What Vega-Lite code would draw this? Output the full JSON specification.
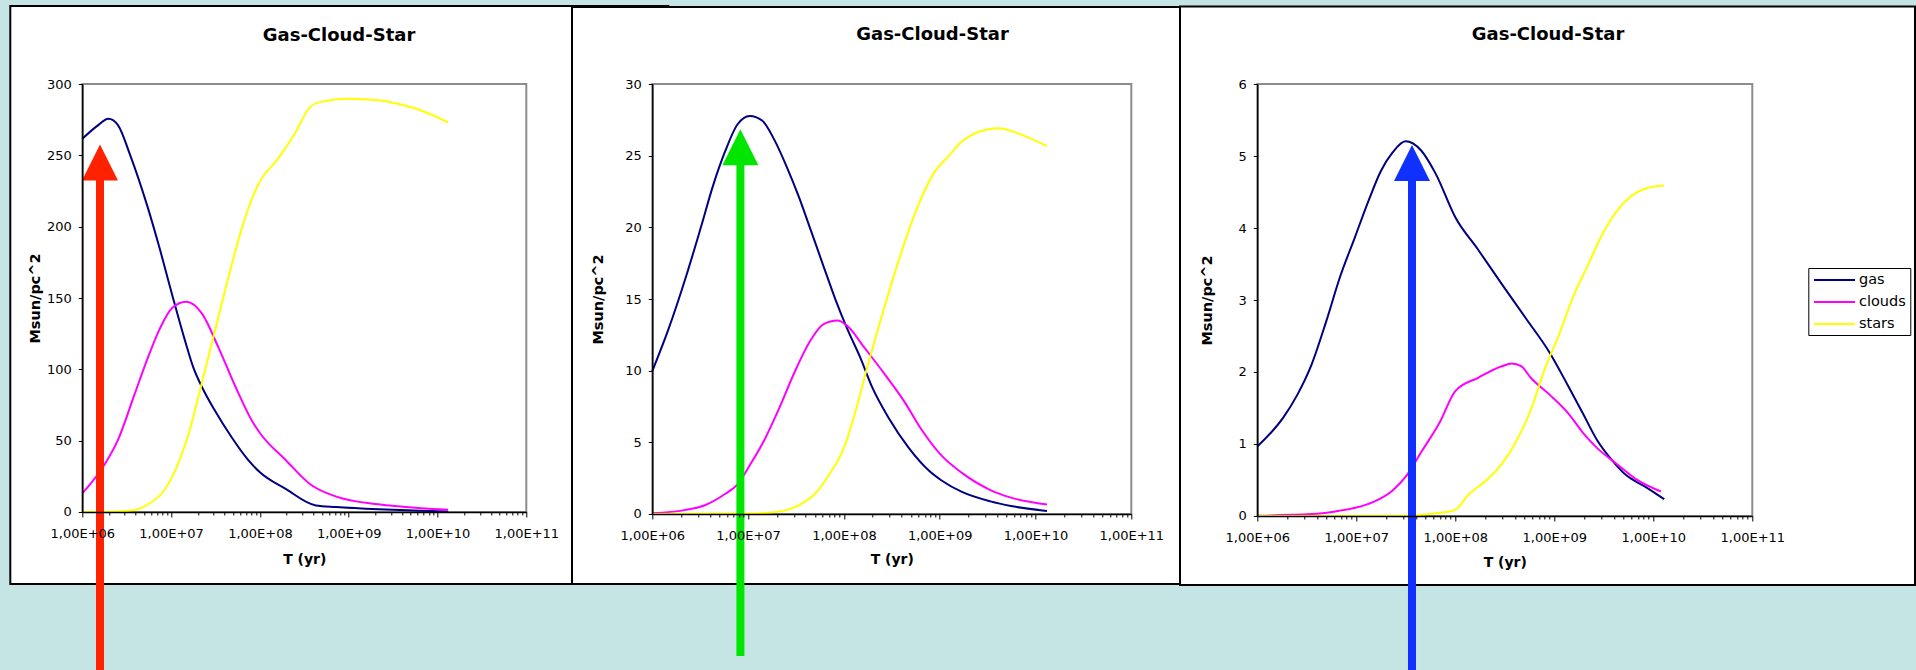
{
 "$schema": "https://vega.github.io/schema/vega-lite/v6.json",
 "background": "#c5e5e5",
 "padding": {"left": 9.3, "top": 4, "right": 0, "bottom": 0},
 "autosize": {"type": "pad"},
 "spacing": 126,
 "bounds": "flush",
 "resolve": {"scale": {"x": "independent", "y": "independent", "color": "independent"}},
 "datasets": {
  "curves": [
   {"p":1,"s":"gas","t":1e6,"v":261.6},{"p":1,"s":"gas","t":1.449e6,"v":270.3},{"p":1,"s":"gas","t":1.968e6,"v":275.7},{"p":1,"s":"gas","t":2.5e6,"v":271.6},{"p":1,"s":"gas","t":3.467e6,"v":250},{"p":1,"s":"gas","t":5.37e6,"v":214.9},{"p":1,"s":"gas","t":7.413e6,"v":185},{"p":1,"s":"gas","t":1.023e7,"v":152.7},{"p":1,"s":"gas","t":1.432e7,"v":120.3},{"p":1,"s":"gas","t":1.778e7,"v":101.4},{"p":1,"s":"gas","t":2.218e7,"v":87.8},{"p":1,"s":"gas","t":3.076e7,"v":71.6},{"p":1,"s":"gas","t":4.764e7,"v":52.7},{"p":1,"s":"gas","t":7.362e7,"v":36.5},{"p":1,"s":"gas","t":1e8,"v":27.8},{"p":1,"s":"gas","t":1.95e8,"v":16.2},{"p":1,"s":"gas","t":4.266e8,"v":4.6},{"p":1,"s":"gas","t":7.244e8,"v":3.5},{"p":1,"s":"gas","t":2.188e9,"v":1.9},{"p":1,"s":"gas","t":6.457e9,"v":0.8},{"p":1,"s":"gas","t":1.318e10,"v":0.3},
   {"p":1,"s":"clouds","t":1e6,"v":13},{"p":1,"s":"clouds","t":1.803e6,"v":33.8},{"p":1,"s":"clouds","t":2.5e6,"v":50},{"p":1,"s":"clouds","t":3.873e6,"v":82.4},{"p":1,"s":"clouds","t":5.37e6,"v":106.8},{"p":1,"s":"clouds","t":7.447e6,"v":128.4},{"p":1,"s":"clouds","t":1.033e7,"v":143.2},{"p":1,"s":"clouds","t":1.479e7,"v":147.3},{"p":1,"s":"clouds","t":2.218e7,"v":139.2},{"p":1,"s":"clouds","t":3.436e7,"v":114.9},{"p":1,"s":"clouds","t":5.309e7,"v":87.8},{"p":1,"s":"clouds","t":8.222e7,"v":63.5},{"p":1,"s":"clouds","t":1e8,"v":55.4},{"p":1,"s":"clouds","t":1.95e8,"v":36.5},{"p":1,"s":"clouds","t":3.784e8,"v":18.9},{"p":1,"s":"clouds","t":7.244e8,"v":10.8},{"p":1,"s":"clouds","t":2.168e9,"v":5.4},{"p":1,"s":"clouds","t":6.457e9,"v":2.7},{"p":1,"s":"clouds","t":1.318e10,"v":1.6},
   {"p":1,"s":"stars","t":1e6,"v":0},{"p":1,"s":"stars","t":2.5e6,"v":0.3},{"p":1,"s":"stars","t":3.873e6,"v":1.4},{"p":1,"s":"stars","t":5.984e6,"v":6.8},{"p":1,"s":"stars","t":8.299e6,"v":14.9},{"p":1,"s":"stars","t":1.148e7,"v":31.1},{"p":1,"s":"stars","t":1.585e7,"v":55.4},{"p":1,"s":"stars","t":2.218e7,"v":90.5},{"p":1,"s":"stars","t":3.076e7,"v":125.7},{"p":1,"s":"stars","t":4.266e7,"v":160.8},{"p":1,"s":"stars","t":5.888e7,"v":193.2},{"p":1,"s":"stars","t":8.222e7,"v":220.3},{"p":1,"s":"stars","t":1e8,"v":231.6},{"p":1,"s":"stars","t":1.585e8,"v":247.3},{"p":1,"s":"stars","t":2.455e8,"v":264.9},{"p":1,"s":"stars","t":3.664e8,"v":283.8},{"p":1,"s":"stars","t":4.71e8,"v":287.3},{"p":1,"s":"stars","t":1e9,"v":289.7},{"p":1,"s":"stars","t":2.168e9,"v":288.6},{"p":1,"s":"stars","t":4.169e9,"v":285.1},{"p":1,"s":"stars","t":6.457e9,"v":281.6},{"p":1,"s":"stars","t":1.318e10,"v":273},
   {"p":2,"s":"gas","t":1e6,"v":9.97},{"p":2,"s":"gas","t":1.466e6,"v":12.84},{"p":2,"s":"gas","t":2.28e6,"v":16.69},{"p":2,"s":"gas","t":3.214e6,"v":20.0},{"p":2,"s":"gas","t":4.315e6,"v":22.93},{"p":2,"s":"gas","t":5.781e6,"v":25.33},{"p":2,"s":"gas","t":7.762e6,"v":27.19},{"p":2,"s":"gas","t":1.042e7,"v":27.77},{"p":2,"s":"gas","t":1.4e7,"v":27.45},{"p":2,"s":"gas","t":1.875e7,"v":26.12},{"p":2,"s":"gas","t":2.518e7,"v":24.26},{"p":2,"s":"gas","t":3.381e7,"v":22.14},{"p":2,"s":"gas","t":4.539e7,"v":19.75},{"p":2,"s":"gas","t":6.081e7,"v":17.35},{"p":2,"s":"gas","t":8.166e7,"v":14.96},{"p":2,"s":"gas","t":1.096e8,"v":12.84},{"p":2,"s":"gas","t":1.469e8,"v":10.98},{"p":2,"s":"gas","t":1.972e8,"v":8.85},{"p":2,"s":"gas","t":2.924e8,"v":6.72},{"p":2,"s":"gas","t":4.775e8,"v":4.6},{"p":2,"s":"gas","t":7.798e8,"v":3.0},{"p":2,"s":"gas","t":1.047e9,"v":2.34},{"p":2,"s":"gas","t":1.706e9,"v":1.54},{"p":2,"s":"gas","t":3.388e9,"v":0.88},{"p":2,"s":"gas","t":5.546e9,"v":0.56},{"p":2,"s":"gas","t":1.318e10,"v":0.21},
   {"p":2,"s":"clouds","t":1e6,"v":0.05},{"p":2,"s":"clouds","t":2.168e6,"v":0.27},{"p":2,"s":"clouds","t":3.54e6,"v":0.61},{"p":2,"s":"clouds","t":5.781e6,"v":1.41},{"p":2,"s":"clouds","t":7.762e6,"v":2.07},{"p":2,"s":"clouds","t":1.042e7,"v":3.4},{"p":2,"s":"clouds","t":1.4e7,"v":4.86},{"p":2,"s":"clouds","t":2.07e7,"v":7.25},{"p":2,"s":"clouds","t":3.062e7,"v":9.91},{"p":2,"s":"clouds","t":4.539e7,"v":12.17},{"p":2,"s":"clouds","t":6.081e7,"v":13.23},{"p":2,"s":"clouds","t":8.57e7,"v":13.5},{"p":2,"s":"clouds","t":1.096e8,"v":13.1},{"p":2,"s":"clouds","t":1.622e8,"v":11.64},{"p":2,"s":"clouds","t":2.649e8,"v":9.78},{"p":2,"s":"clouds","t":4.325e8,"v":7.79},{"p":2,"s":"clouds","t":6.397e8,"v":5.93},{"p":2,"s":"clouds","t":1.047e9,"v":4.07},{"p":2,"s":"clouds","t":1.706e9,"v":2.87},{"p":2,"s":"clouds","t":3.388e9,"v":1.67},{"p":2,"s":"clouds","t":5.546e9,"v":1.14},{"p":2,"s":"clouds","t":1.318e10,"v":0.66},
   {"p":2,"s":"stars","t":1e6,"v":0},{"p":2,"s":"stars","t":9.772e6,"v":0.03},{"p":2,"s":"stars","t":1.875e7,"v":0.13},{"p":2,"s":"stars","t":3.381e7,"v":0.61},{"p":2,"s":"stars","t":5.0e7,"v":1.41},{"p":2,"s":"stars","t":7.413e7,"v":3.0},{"p":2,"s":"stars","t":1e8,"v":4.6},{"p":2,"s":"stars","t":1.334e8,"v":7.25},{"p":2,"s":"stars","t":1.786e8,"v":10.44},{"p":2,"s":"stars","t":2.649e8,"v":14.43},{"p":2,"s":"stars","t":3.926e8,"v":18.15},{"p":2,"s":"stars","t":5.808e8,"v":21.34},{"p":2,"s":"stars","t":8.59e8,"v":23.73},{"p":2,"s":"stars","t":1.274e9,"v":25.06},{"p":2,"s":"stars","t":1.626e9,"v":25.86},{"p":2,"s":"stars","t":2.529e9,"v":26.65},{"p":2,"s":"stars","t":4.13e9,"v":26.92},{"p":2,"s":"stars","t":6.745e9,"v":26.52},{"p":2,"s":"stars","t":1.318e10,"v":25.67},
   {"p":3,"s":"gas","t":1e6,"v":0.966},{"p":3,"s":"gas","t":1.82e6,"v":1.363},{"p":3,"s":"gas","t":2.535e6,"v":1.682},{"p":3,"s":"gas","t":3.54e6,"v":2.106},{"p":3,"s":"gas","t":4.932e6,"v":2.69},{"p":3,"s":"gas","t":6.871e6,"v":3.326},{"p":3,"s":"gas","t":9.594e6,"v":3.857},{"p":3,"s":"gas","t":1.337e7,"v":4.387},{"p":3,"s":"gas","t":1.762e7,"v":4.785},{"p":3,"s":"gas","t":2.328e7,"v":5.05},{"p":3,"s":"gas","t":3.141e7,"v":5.204},{"p":3,"s":"gas","t":4.519e7,"v":5.077},{"p":3,"s":"gas","t":6.31e7,"v":4.759},{"p":3,"s":"gas","t":1e8,"v":4.149},{"p":3,"s":"gas","t":1.702e8,"v":3.698},{"p":3,"s":"gas","t":2.951e8,"v":3.22},{"p":3,"s":"gas","t":5.176e8,"v":2.743},{"p":3,"s":"gas","t":9.016e8,"v":2.265},{"p":3,"s":"gas","t":1.403e9,"v":1.788},{"p":3,"s":"gas","t":1.959e9,"v":1.416},{"p":3,"s":"gas","t":2.729e9,"v":1.045},{"p":3,"s":"gas","t":3.802e9,"v":0.78},{"p":3,"s":"gas","t":5.309e9,"v":0.568},{"p":3,"s":"gas","t":8.26e9,"v":0.408},{"p":3,"s":"gas","t":1.288e10,"v":0.233},
   {"p":3,"s":"clouds","t":1e6,"v":0.005},{"p":3,"s":"clouds","t":3.54e6,"v":0.027},{"p":3,"s":"clouds","t":6.152e6,"v":0.064},{"p":3,"s":"clouds","t":1e7,"v":0.117},{"p":3,"s":"clouds","t":1.493e7,"v":0.196},{"p":3,"s":"clouds","t":2.328e7,"v":0.355},{"p":3,"s":"clouds","t":3.243e7,"v":0.568},{"p":3,"s":"clouds","t":4.519e7,"v":0.886},{"p":3,"s":"clouds","t":7.015e7,"v":1.31},{"p":3,"s":"clouds","t":1e8,"v":1.735},{"p":3,"s":"clouds","t":1.702e8,"v":1.92},{"p":3,"s":"clouds","t":2.951e8,"v":2.08},{"p":3,"s":"clouds","t":3.715e8,"v":2.117},{"p":3,"s":"clouds","t":4.634e8,"v":2.08},{"p":3,"s":"clouds","t":5.781e8,"v":1.92},{"p":3,"s":"clouds","t":9.016e8,"v":1.682},{"p":3,"s":"clouds","t":1.403e9,"v":1.416},{"p":3,"s":"clouds","t":1.959e9,"v":1.151},{"p":3,"s":"clouds","t":2.729e9,"v":0.939},{"p":3,"s":"clouds","t":4.246e9,"v":0.727},{"p":3,"s":"clouds","t":6.622e9,"v":0.515},{"p":3,"s":"clouds","t":1.191e10,"v":0.34},
   {"p":3,"s":"stars","t":1e6,"v":0},{"p":3,"s":"stars","t":3.162e7,"v":0.005},{"p":3,"s":"stars","t":6.31e7,"v":0.037},{"p":3,"s":"stars","t":9.772e7,"v":0.08},{"p":3,"s":"stars","t":1.371e8,"v":0.302},{"p":3,"s":"stars","t":2.133e8,"v":0.515},{"p":3,"s":"stars","t":2.972e8,"v":0.727},{"p":3,"s":"stars","t":4.15e8,"v":1.045},{"p":3,"s":"stars","t":5.781e8,"v":1.47},{"p":3,"s":"stars","t":8.072e8,"v":2.053},{"p":3,"s":"stars","t":1.125e9,"v":2.53},{"p":3,"s":"stars","t":1.567e9,"v":3.061},{"p":3,"s":"stars","t":2.188e9,"v":3.485},{"p":3,"s":"stars","t":3.048e9,"v":3.91},{"p":3,"s":"stars","t":4.246e9,"v":4.228},{"p":3,"s":"stars","t":5.929e9,"v":4.44},{"p":3,"s":"stars","t":8.26e9,"v":4.546},{"p":3,"s":"stars","t":1.288e10,"v":4.589}
  ]
 },
 "data": {"name": "curves"},
 "hconcat": [
  {
   "width": 444, "height": 428,
   "layer": [
    {"data": {"values": [{}]}, "mark": {"type": "rect", "fill": "white", "stroke": "black", "strokeWidth": 2},
     "encoding": {"x": {"datum": 154610, "type": "quantitative", "scale": {"type": "log", "domain": [1e6, 1e11], "nice": false}}, "x2": {"datum": 3.972e12},
      "y": {"datum": 354.7, "type": "quantitative", "scale": {"domain": [0, 300], "nice": false, "zero": false}}, "y2": {"datum": -50.5}}},
    {"data": {"values": [{}]}, "mark": {"type": "rect", "filled": false, "stroke": "#8c8c8c", "strokeWidth": 2},
     "encoding": {"x": {"datum": 1e6, "type": "quantitative"}, "x2": {"datum": 1e11},
      "y": {"datum": 0, "type": "quantitative"}, "y2": {"datum": 300}}},
    {"data": {"values": [{}]}, "mark": {"type": "text", "text": "Gas-Cloud-Star", "font": "DejaVu Sans", "fontSize": 18, "fontWeight": "bold", "color": "black", "align": "center", "baseline": "alphabetic"},
     "encoding": {"x": {"datum": 7.778e8, "type": "quantitative"}, "y": {"datum": 330.1, "type": "quantitative"}}},
    {"transform": [{"filter": "datum.p == 1"}], "mark": {"type": "line", "strokeWidth": 2, "interpolate": "monotone"},
     "encoding": {
      "x": {"field": "t", "type": "quantitative", "scale": {"type": "log", "domain": [1e6, 1e11], "nice": false},
       "axis": {"zindex": 1, "title": "T (yr)", "titleY": 48, "values": [1e6,2e6,3e6,4e6,5e6,6e6,7e6,8e6,9e6,1e7,2e7,3e7,4e7,5e7,6e7,7e7,8e7,9e7,1e8,2e8,3e8,4e8,5e8,6e8,7e8,8e8,9e8,1e9,2e9,3e9,4e9,5e9,6e9,7e9,8e9,9e9,1e10,2e10,3e10,4e10,5e10,6e10,7e10,8e10,9e10,1e11],
        "labelExpr": "abs(log(datum.value)/LN10 - round(log(datum.value)/LN10)) < 0.001 ? '1,00E+' + (round(log(datum.value)/LN10) < 10 ? '0' : '') + round(log(datum.value)/LN10) : ''",
        "tickSize": {"condition": {"test": "abs(log(datum.value)/LN10 - round(log(datum.value)/LN10)) < 0.001", "value": 5}, "value": 3}}},
      "y": {"field": "v", "type": "quantitative", "scale": {"domain": [0, 300], "nice": false, "zero": false},
       "axis": {"zindex": 1, "format": "d", "title": "Msun/pc^2", "titleX": -46.5, "titleY": 214, "values": [0, 50, 100, 150, 200, 250, 300]}},
      "color": {"field": "s", "type": "nominal", "scale": {"domain": ["gas", "clouds", "stars"], "range": ["#000080", "#ff00ff", "#ffff00"]}, "legend": null}}},
    {"data": {"values": [{}]}, "mark": {"type": "rule", "color": "#ff2200", "strokeWidth": 8, "strokeCap": "butt"},
     "encoding": {"x": {"datum": 1.5824e6, "type": "quantitative"}, "y": {"datum": 232.7, "type": "quantitative"}, "y2": {"datum": -122}}},
    {"data": {"values": [{}]}, "mark": {"type": "point", "shape": "M-1,1L1,1L0,-1Z", "size": 1296, "filled": true, "color": "#ff2200", "opacity": 1},
     "encoding": {"x": {"datum": 1.5824e6, "type": "quantitative"}, "y": {"datum": 245.0, "type": "quantitative"}}}
   ]
  },
  {
   "width": 479, "height": 430,
   "layer": [
    {"data": {"values": [{}]}, "mark": {"type": "rect", "fill": "white", "stroke": "black", "strokeWidth": 2},
     "encoding": {"x": {"datum": 145160, "type": "quantitative", "scale": {"type": "log", "domain": [1e6, 1e11], "nice": false}}, "x2": {"datum": 4.874e12},
      "y": {"datum": 35.37, "type": "quantitative", "scale": {"domain": [0, 30], "nice": false, "zero": false}}, "y2": {"datum": -4.884}}},
    {"data": {"values": [{}]}, "mark": {"type": "rect", "filled": false, "stroke": "#8c8c8c", "strokeWidth": 2},
     "encoding": {"x": {"datum": 1e6, "type": "quantitative"}, "x2": {"datum": 1e11},
      "y": {"datum": 0, "type": "quantitative"}, "y2": {"datum": 30}}},
    {"data": {"values": [{}]}, "mark": {"type": "text", "text": "Gas-Cloud-Star", "font": "DejaVu Sans", "fontSize": 18, "fontWeight": "bold", "color": "black", "align": "center", "baseline": "alphabetic"},
     "encoding": {"x": {"datum": 8.411e8, "type": "quantitative"}, "y": {"datum": 33.07, "type": "quantitative"}}},
    {"transform": [{"filter": "datum.p == 2"}], "mark": {"type": "line", "strokeWidth": 2, "interpolate": "monotone"},
     "encoding": {
      "x": {"field": "t", "type": "quantitative", "scale": {"type": "log", "domain": [1e6, 1e11], "nice": false},
       "axis": {"zindex": 1, "title": "T (yr)", "titleY": 46, "values": [1e6,2e6,3e6,4e6,5e6,6e6,7e6,8e6,9e6,1e7,2e7,3e7,4e7,5e7,6e7,7e7,8e7,9e7,1e8,2e8,3e8,4e8,5e8,6e8,7e8,8e8,9e8,1e9,2e9,3e9,4e9,5e9,6e9,7e9,8e9,9e9,1e10,2e10,3e10,4e10,5e10,6e10,7e10,8e10,9e10,1e11],
        "labelExpr": "abs(log(datum.value)/LN10 - round(log(datum.value)/LN10)) < 0.001 ? '1,00E+' + (round(log(datum.value)/LN10) < 10 ? '0' : '') + round(log(datum.value)/LN10) : ''",
        "tickSize": {"condition": {"test": "abs(log(datum.value)/LN10 - round(log(datum.value)/LN10)) < 0.001", "value": 5}, "value": 3}}},
      "y": {"field": "v", "type": "quantitative", "scale": {"domain": [0, 30], "nice": false, "zero": false},
       "axis": {"zindex": 1, "format": "d", "title": "Msun/pc^2", "titleX": -53.5, "titleY": 215, "values": [0, 5, 10, 15, 20, 25, 30]}},
      "color": {"field": "s", "type": "nominal", "scale": {"domain": ["gas", "clouds", "stars"], "range": ["#000080", "#ff00ff", "#ffff00"]}, "legend": null}}},
    {"data": {"values": [{}]}, "mark": {"type": "rule", "color": "#00e600", "strokeWidth": 8, "strokeCap": "butt"},
     "encoding": {"x": {"datum": 8.311e6, "type": "quantitative"}, "y": {"datum": 24.38, "type": "quantitative"}, "y2": {"datum": -9.91}}},
    {"data": {"values": [{}]}, "mark": {"type": "point", "shape": "M-1,1L1,1L0,-1Z", "size": 1296, "filled": true, "color": "#00e600", "opacity": 1},
     "encoding": {"x": {"datum": 8.311e6, "type": "quantitative"}, "y": {"datum": 25.58, "type": "quantitative"}}}
   ]
  },
  {
   "width": 495, "height": 432,
   "layer": [
    {"data": {"values": [{}]}, "mark": {"type": "rect", "fill": "white", "stroke": "black", "strokeWidth": 2},
     "encoding": {"x": {"datum": 165680, "type": "quantitative", "scale": {"type": "log", "domain": [1e6, 1e11], "nice": false}}, "x2": {"datum": 4.399e12},
      "y": {"datum": 7.076, "type": "quantitative", "scale": {"domain": [0, 6], "nice": false, "zero": false}}, "y2": {"datum": -0.958}}},
    {"data": {"values": [{}]}, "mark": {"type": "rect", "filled": false, "stroke": "#8c8c8c", "strokeWidth": 2},
     "encoding": {"x": {"datum": 1e6, "type": "quantitative"}, "x2": {"datum": 1e11},
      "y": {"datum": 0, "type": "quantitative"}, "y2": {"datum": 6}}},
    {"data": {"values": [{}]}, "mark": {"type": "text", "text": "Gas-Cloud-Star", "font": "DejaVu Sans", "fontSize": 18, "fontWeight": "bold", "color": "black", "align": "center", "baseline": "alphabetic"},
     "encoding": {"x": {"datum": 8.639e8, "type": "quantitative"}, "y": {"datum": 6.611, "type": "quantitative"}}},
    {"transform": [{"filter": "datum.p == 3"}], "mark": {"type": "line", "strokeWidth": 2, "interpolate": "monotone"},
     "encoding": {
      "x": {"field": "t", "type": "quantitative", "scale": {"type": "log", "domain": [1e6, 1e11], "nice": false},
       "axis": {"zindex": 1, "title": "T (yr)", "titleY": 47, "values": [1e6,2e6,3e6,4e6,5e6,6e6,7e6,8e6,9e6,1e7,2e7,3e7,4e7,5e7,6e7,7e7,8e7,9e7,1e8,2e8,3e8,4e8,5e8,6e8,7e8,8e8,9e8,1e9,2e9,3e9,4e9,5e9,6e9,7e9,8e9,9e9,1e10,2e10,3e10,4e10,5e10,6e10,7e10,8e10,9e10,1e11],
        "labelExpr": "abs(log(datum.value)/LN10 - round(log(datum.value)/LN10)) < 0.001 ? '1,00E+' + (round(log(datum.value)/LN10) < 10 ? '0' : '') + round(log(datum.value)/LN10) : ''",
        "tickSize": {"condition": {"test": "abs(log(datum.value)/LN10 - round(log(datum.value)/LN10)) < 0.001", "value": 5}, "value": 3}}},
      "y": {"field": "v", "type": "quantitative", "scale": {"domain": [0, 6], "nice": false, "zero": false},
       "axis": {"zindex": 1, "format": "d", "title": "Msun/pc^2", "titleX": -49.3, "titleY": 216, "values": [0, 1, 2, 3, 4, 5, 6]}},
      "color": {"field": "s", "type": "nominal", "scale": {"domain": ["gas", "clouds", "stars"], "range": ["#000080", "#ff00ff", "#ffff00"]},
       "legend": {"orient": "none", "legendX": 551, "legendY": 184, "title": null, "strokeColor": "black", "fillColor": "white", "padding": 4,
        "symbolType": "M-2.93,0L2.93,0", "symbolSize": 196, "symbolStrokeWidth": 2, "symbolOffset": 14.2, "labelOffset": 16.5,
        "labelFontSize": 14.5, "labelFont": "DejaVu Sans", "labelColor": "black", "rowPadding": 7}}}},
    {"data": {"values": [{}]}, "mark": {"type": "rule", "color": "#1030ff", "strokeWidth": 8, "strokeCap": "butt"},
     "encoding": {"x": {"datum": 3.6527e7, "type": "quantitative"}, "y": {"datum": 4.6625, "type": "quantitative"}, "y2": {"datum": -2.36}}},
    {"data": {"values": [{}]}, "mark": {"type": "point", "shape": "M-1,1L1,1L0,-1Z", "size": 1296, "filled": true, "color": "#1030ff", "opacity": 1},
     "encoding": {"x": {"datum": 3.6527e7, "type": "quantitative"}, "y": {"datum": 4.902, "type": "quantitative"}}}
   ]
  }
 ],
 "config": {
  "font": "DejaVu Sans",
  "view": {"stroke": null},
  "axis": {"grid": false, "domainColor": "black", "domainWidth": 1.5, "tickColor": "black", "tickWidth": 1,
   "labelFont": "DejaVu Sans", "labelFontSize": 13, "labelColor": "black", "titleFont": "DejaVu Sans", "titleFontWeight": "bold", "titleColor": "black"},
  "axisX": {"labelOverlap": false, "labelFlush": false, "labelPadding": 11, "labelBaseline": "top", "titleFontSize": 14, "titleBaseline": "middle"},
  "axisY": {"tickSize": 4, "labelPadding": 7, "titleFontSize": 14.5, "titleAngle": -90, "titleBaseline": "middle", "titleAlign": "center"}
 }
}
